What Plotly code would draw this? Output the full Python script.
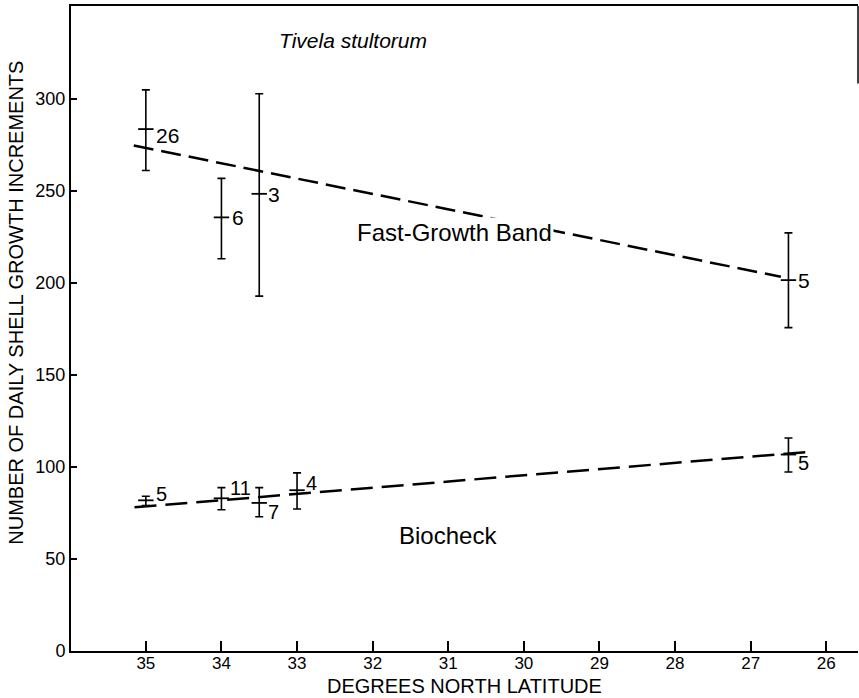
import plotly.graph_objects as go

# ---------------- data ----------------
fast_lat = [35.0, 34.0, 33.5, 26.5]
fast_mean = [283.7, 235.7, 248.5, 201.6]
fast_hi = [305.0, 256.9, 302.9, 227.3]
fast_lo = [261.2, 213.2, 192.9, 175.8]
fast_n = ["26", "6", "3", "5"]

bio_lat = [35.0, 34.0, 33.5, 33.0, 26.5]
bio_mean = [81.9, 83.0, 80.5, 87.4, 106.8]
bio_hi = [84.1, 88.8, 88.8, 96.8, 115.8]
bio_lo = [79.0, 76.8, 73.0, 77.2, 97.3]
bio_n = ["5", "11", "7", "4", "5"]

fast_fit_lat = [35.16, 26.6]
fast_fit_val = [274.8, 203.4]
bio_fit_lat = [35.15, 26.24]
bio_fit_val = [78.1, 108.2]

x_ticks = [35, 34, 33, 32, 31, 30, 29, 28, 27, 26]
x_tick_labels = ["35", "34", "33", "32", "31", "30", "29", "28", "27", "26"]
y_ticks = [0, 50, 100, 150, 200, 250, 300]
y_tick_labels = ["0", "50", "100", "150", "200", "250", "300"]

title_text = "<i>Tivela stultorum</i>"
fast_label = "Fast-Growth Band"
bio_label = "Biocheck"
x_title = "DEGREES NORTH LATITUDE"
y_title = "NUMBER OF DAILY SHELL GROWTH INCREMENTS"

# ---------------- styling / positions ----------------
FONT = "Liberation Sans, Arial, sans-serif"
fast_offsets = [(8, -6), (9, 0), (7, -1), (8, 0)]
bio_offsets = [(8, 6), (7, 10), (7, -9), (7, 7), (8, -8)]

fig = go.Figure()

fig.add_trace(go.Scatter(
    x=fast_fit_lat, y=fast_fit_val, mode="lines",
    line=dict(color="black", width=2.5, dash="20px,8px"),
    showlegend=False, hoverinfo="skip"))
fig.add_trace(go.Scatter(
    x=bio_fit_lat, y=bio_fit_val, mode="lines",
    line=dict(color="black", width=2.5, dash="22px,9px"),
    showlegend=False, hoverinfo="skip"))


def add_points(lat, mean, hi, lo):
    fig.add_trace(go.Scatter(
        x=lat, y=mean, mode="markers",
        marker=dict(symbol="line-ew", size=11, color="black",
                    line=dict(color="black", width=1.8)),
        error_y=dict(type="data", symmetric=False,
                     array=[h - m for h, m in zip(hi, mean)],
                     arrayminus=[m - l for m, l in zip(mean, lo)],
                     color="black", thickness=1.6, width=4),
        showlegend=False))


add_points(fast_lat, fast_mean, fast_hi, fast_lo)
add_points(bio_lat, bio_mean, bio_hi, bio_lo)

annotations = []
for lat, m, n, (dx, dy) in zip(fast_lat, fast_mean, fast_n, fast_offsets):
    annotations.append(dict(x=lat, y=m, text=n, showarrow=False,
                            xanchor="left", yanchor="middle",
                            xshift=dx, yshift=dy,
                            font=dict(family=FONT, size=21, color="black")))
for lat, m, n, (dx, dy) in zip(bio_lat, bio_mean, bio_n, bio_offsets):
    annotations.append(dict(x=lat, y=m, text=n, showarrow=False,
                            xanchor="left", yanchor="middle",
                            xshift=dx, yshift=dy,
                            font=dict(family=FONT, size=20, color="black")))

annotations.append(dict(x=30.92, y=227.7, text=fast_label, showarrow=False,
                        xanchor="center", yanchor="middle", bgcolor="white",
                        font=dict(family=FONT, size=24, color="black")))
annotations.append(dict(x=31.0, y=62.9, text=bio_label, showarrow=False,
                        xanchor="center", yanchor="middle",
                        font=dict(family=FONT, size=24, color="black")))
annotations.append(dict(x=32.26, y=332.1, text=title_text, showarrow=False,
                        xanchor="center", yanchor="middle",
                        font=dict(family=FONT, size=21, color="black")))
# axis titles placed as in the reference
annotations.append(dict(x=0, y=0.54, xref="paper", yref="paper",
                        text=y_title, showarrow=False, textangle=-90,
                        xanchor="center", yanchor="middle", xshift=-55,
                        font=dict(family=FONT, size=20, color="black")))
annotations.append(dict(x=0.5, y=0, xref="paper", yref="paper",
                        text=x_title, showarrow=False,
                        xanchor="center", yanchor="middle", yshift=-35,
                        font=dict(family=FONT, size=20, color="black")))

fig.update_layout(
    width=859, height=698,
    margin=dict(l=71, r=1, t=6, b=47),
    paper_bgcolor="white", plot_bgcolor="white",
    font=dict(family=FONT, color="black"),
    annotations=annotations,
    showlegend=False,
    shapes=[dict(type="line", xref="paper", yref="paper",
                 x0=1, x1=1, y0=0.88, y1=1,
                 line=dict(color="black", width=1.5))],
)

fig.update_xaxes(
    range=[35.99, 25.58], automargin=False,
    tickmode="array", tickvals=x_ticks, ticktext=x_tick_labels,
    ticks="inside", ticklen=10, tickwidth=1.5, tickcolor="black",
    showline=True, linecolor="black", linewidth=2, mirror=True,
    showgrid=False, zeroline=False, ticklabelstandoff=-4,
    tickfont=dict(family=FONT, size=17, color="black"),
)
fig.update_yaxes(
    range=[0, 350.6], automargin=False,
    tickmode="array", tickvals=y_ticks, ticktext=y_tick_labels,
    ticks="inside", ticklen=6, tickwidth=1.5, tickcolor="black",
    showline=True, linecolor="black", linewidth=2,
    showgrid=False, zeroline=False,
    tickfont=dict(family=FONT, size=18, color="black"),
)

fig.write_html("out.html",
               config={"displayModeBar": False},
               post_script="document.body.style.margin='0';"
                           "document.body.style.padding='0';")
